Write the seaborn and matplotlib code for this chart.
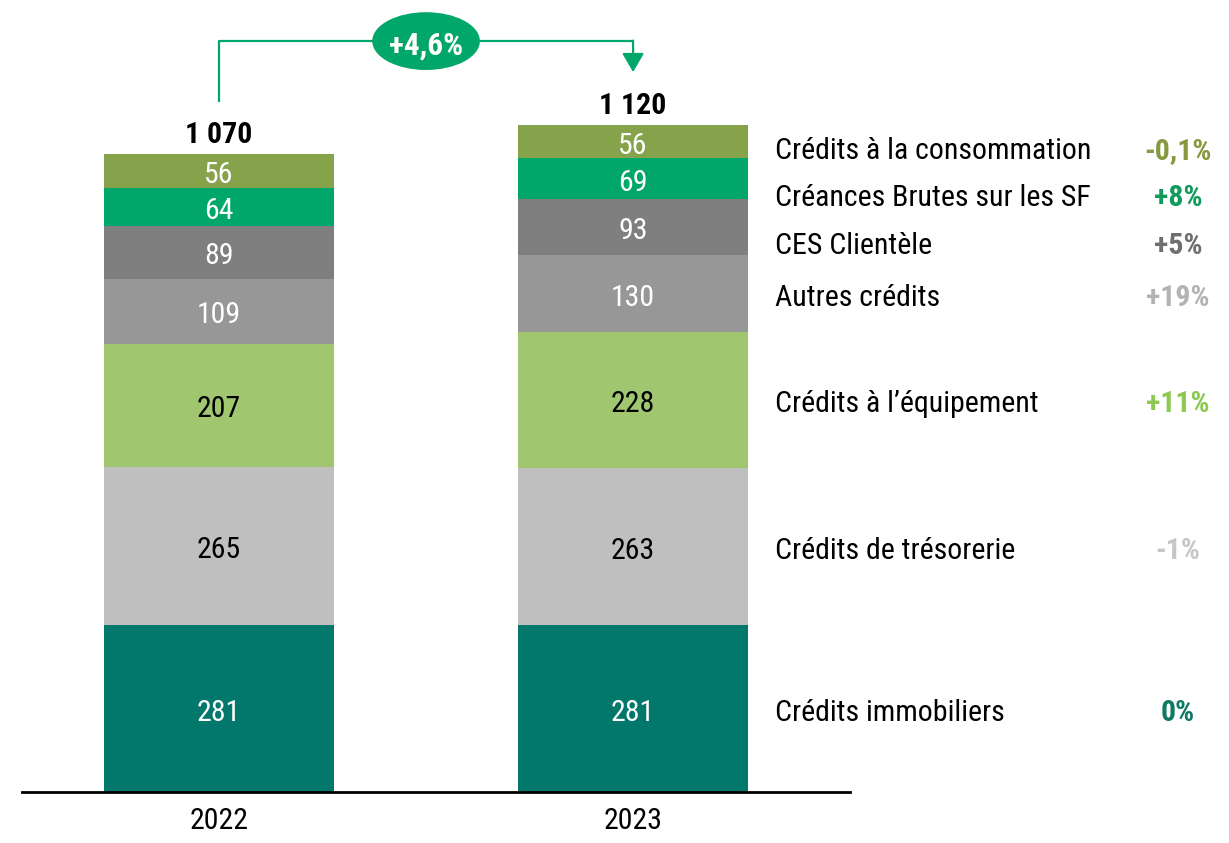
import numpy as np
import pandas as pd
import matplotlib
matplotlib.use('Agg')
import matplotlib.pyplot as plt
from matplotlib.patches import Ellipse
import seaborn as sns

# Données
annees = ['2022', '2023']
categories = ['Crédits immobiliers', 'Crédits de trésorerie', 'Crédits à l’équipement',
              'Autres crédits', 'CES Clientèle', 'Créances Brutes sur les SF',
              'Crédits à la consommation']
valeurs_2022 = [281, 265, 207, 109, 89, 64, 56]
valeurs_2023 = [281, 263, 228, 130, 93, 69, 56]
totaux = [1070, 1120]
variations = ['0%', '-1%', '+11%', '+19%', '+5%', '+8%', '-0,1%']
variation_totale = '+4,6%'

couleurs = ['#02786D', '#BFBFBF', '#A0C76F', '#979797', '#7F7F7F', '#00A66A', '#86A24B']
couleurs_var = ['#0E7A66', '#C6C6C6', '#8CC852', '#B3B3B3', '#6E6E6E', '#109A5C', '#86993F']
couleurs_texte = ['white', 'black', 'black', 'white', 'white', 'white', 'white']
vert = '#00A66A'

sns.set_style('white')
plt.rcParams['font.family'] = ['Roboto Condensed', 'Liberation Sans', 'DejaVu Sans']
taille = 21.5
decal = (0, -3)  # léger décalage vertical des textes centrés

df = pd.DataFrame({
    'annee': np.repeat(annees, len(categories)),
    'categorie': categories * 2,
    'valeur': valeurs_2022 + valeurs_2023,
})
df['cumul'] = df.groupby('annee')['valeur'].cumsum()
df['centre'] = df['cumul'] - df['valeur'] / 2

fig = plt.figure(figsize=(12.29, 8.43), dpi=100)
ax = fig.add_axes([22 / 1229, 51 / 843, 828 / 1229, 792 / 843])

# barres empilées : on dessine les cumuls du haut vers le bas
for i in reversed(range(len(categories))):
    sub = df[df['categorie'] == categories[i]]
    sns.barplot(data=sub, x='annee', y='cumul', order=annees, color=couleurs[i],
                saturation=1, width=0.556, errorbar=None, linewidth=0, ax=ax)

# valeurs dans les segments
for j, annee in enumerate(annees):
    sub = df[df['annee'] == annee].reset_index(drop=True)
    for i, row in sub.iterrows():
        ax.annotate(str(row['valeur']), (j, row['centre']), xytext=decal, textcoords='offset points',
                    ha='center', va='center', fontsize=taille, color=couleurs_texte[i])
    ax.annotate(f"{totaux[j]:,}".replace(',', ' '), (j, totaux[j]), xytext=(0, 14),
                textcoords='offset points', ha='center', va='center',
                fontsize=taille, fontweight='bold', color='black')

# légende à droite avec variations
sub23 = df[df['annee'] == '2023'].reset_index(drop=True)
pos = [0] * len(categories)
prec = None
for i in reversed(range(len(categories))):
    c = sub23.loc[i, 'centre']
    pos[i] = c - 8 if prec is None else min(c, prec - 80)
    prec = pos[i]
for i, cat in enumerate(categories):
    ax.annotate(cat, (1.343, pos[i]), xytext=decal, textcoords='offset points',
                ha='left', va='center', fontsize=taille, color='black', annotation_clip=False)
    ax.annotate(variations[i], (2.316, pos[i]), xytext=decal, textcoords='offset points',
                ha='center', va='center', fontsize=taille, fontweight='bold',
                color=couleurs_var[i], annotation_clip=False)

# flèche d'évolution totale
y_haut = max(totaux) + 141
ax.plot([0, 0, 1], [totaux[0] + 89, y_haut, y_haut], color=vert, lw=1.6, solid_capstyle='butt')
ax.annotate('', xy=(1, totaux[1] + 89), xytext=(1, y_haut + 0.8),
            arrowprops=dict(arrowstyle='-|>,head_length=0.6,head_width=0.35', color=vert,
                            lw=1.6, mutation_scale=19, shrinkA=0, shrinkB=0))
ax.add_patch(Ellipse((0.5, y_haut), 0.26, 97, facecolor=vert, edgecolor='none', zorder=3))
ax.annotate(variation_totale, (0.5, y_haut), xytext=decal, textcoords='offset points',
            ha='center', va='center', fontsize=22.5, fontweight='bold', color='white', zorder=4)

ax.set_xlim(-0.476, 1.524)
ax.set_ylim(0, 1330)
ax.set_xlabel('')
ax.set_ylabel('')
ax.set_yticks([])
ax.tick_params(axis='x', length=0, labelsize=taille, labelcolor='black', pad=11)
for s in ['top', 'left', 'right']:
    ax.spines[s].set_visible(False)
ax.spines['bottom'].set_color('black')
ax.spines['bottom'].set_linewidth(2)

fig.savefig('out.png', dpi=100)
